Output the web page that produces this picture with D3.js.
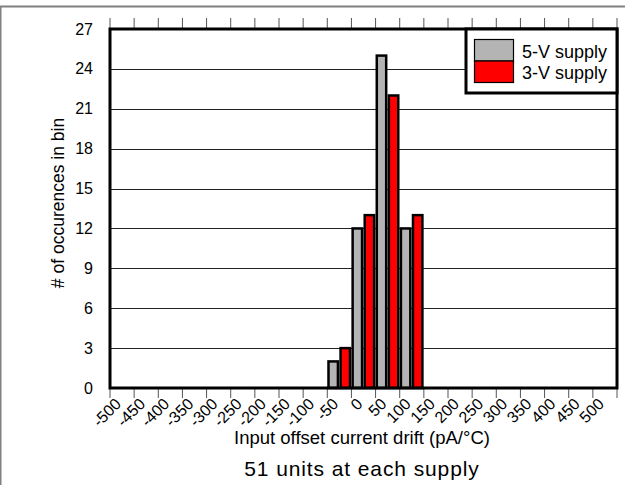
<!DOCTYPE html>
<html lang="en">
<head>
  <meta charset="UTF-8">
  <title>Input offset current drift histogram</title>
  <script src="https://d3js.org/d3.v7.min.js"></script>
  <style>
    body { margin: 0; background: #fff; }
    svg text { font-family: "Liberation Sans", Arial, Helvetica, sans-serif; fill: #000; }
  </style>
</head>
<body>
<div id="graph-container"></div>

<script>
// bin labels (pA/°C)
const bins = d3.range(-500, 501, 50).map(String);
// counts per bin
const counts5V = { "-50": 2, "0": 12, "50": 25, "100": 12 };
const counts3V = { "-50": 3, "0": 13, "50": 22, "100": 13 };
const yTicks = d3.range(0, 28, 3);
const series = [
  { name: "5-V supply", key: "v5", color: "#b4b4b4" },
  { name: "3-V supply", key: "v3", color: "#ff0000" }
];

const data = bins.map(b => ({ bin: b, v5: counts5V[b] || 0, v3: counts3V[b] || 0 }));

const width = 625, height = 485;
const plotLeft = 110, plotRight = 617, plotTop = 29, plotBottom = 388;

const svg = d3.select("#graph-container")
  .append("svg")
  .attr("width", width)
  .attr("height", height);

// outer frame
svg.append("line").attr("x1", 0).attr("x2", width).attr("y1", 6.5).attr("y2", 6.5)
  .attr("stroke", "#808080").attr("stroke-width", 2);
svg.append("line").attr("x1", 0.5).attr("x2", 0.5).attr("y1", 6).attr("y2", height)
  .attr("stroke", "#808080").attr("stroke-width", 2);

const x = d3.scaleBand().domain(bins).range([plotLeft, plotRight]).padding(0);
const y = d3.scaleLinear().domain([0, 27]).range([plotBottom, plotTop]);
const bw = x.bandwidth();

// grid lines
svg.append("g")
  .selectAll("line")
  .data(yTicks.filter(d => d > 0 && d < 27))
  .enter()
  .append("line")
  .attr("x1", plotLeft).attr("x2", plotRight)
  .attr("y1", d => Math.round(y(d)) + 0.5)
  .attr("y2", d => Math.round(y(d)) + 0.5)
  .attr("stroke", "#222")
  .attr("stroke-width", 1);

// bin boundary ticks (top and bottom)
const edges = bins.map(b => x(b)).concat([plotRight]);
svg.append("g")
  .selectAll("line")
  .data(edges)
  .enter()
  .append("line")
  .attr("x1", d => d).attr("x2", d => d)
  .attr("y1", plotTop - 11).attr("y2", plotTop)
  .attr("stroke", "#555").attr("stroke-width", 1);
svg.append("g")
  .selectAll("line")
  .data(edges)
  .enter()
  .append("line")
  .attr("x1", d => d).attr("x2", d => d)
  .attr("y1", plotBottom).attr("y2", plotBottom + 10)
  .attr("stroke", "#555").attr("stroke-width", 1);

// bars
series.forEach((s, i) => {
  svg.append("g")
    .selectAll("rect")
    .data(data.filter(d => d[s.key] > 0))
    .enter()
    .append("rect")
    .attr("x", d => x(d.bin) + bw * (0.05 + i * 0.5))
    .attr("width", bw * 0.39)
    .attr("y", d => y(d[s.key]))
    .attr("height", d => y(0) - y(d[s.key]))
    .attr("fill", s.color)
    .attr("stroke", "#000")
    .attr("stroke-width", 2.5);
});

// plot border
svg.append("rect")
  .attr("x", plotLeft).attr("y", plotTop)
  .attr("width", plotRight - plotLeft).attr("height", plotBottom - plotTop)
  .attr("fill", "none").attr("stroke", "#000").attr("stroke-width", 3);

// y tick labels
svg.append("g")
  .selectAll("text")
  .data(yTicks)
  .enter()
  .append("text")
  .attr("x", plotLeft - 17)
  .attr("y", d => y(d))
  .attr("dy", "0.35em")
  .attr("text-anchor", "end")
  .style("font-size", "16px")
  .text(d => d);

// x tick labels
svg.append("g")
  .selectAll("text")
  .data(bins)
  .enter()
  .append("text")
  .attr("transform", d => `translate(${x(d) + bw / 2},${plotBottom + 17}) rotate(-45)`)
  .attr("text-anchor", "end")
  .style("font-size", "16px")
  .text(d => d);

// axis titles
svg.append("text")
  .attr("transform", `translate(64,203) rotate(-90)`)
  .attr("text-anchor", "middle")
  .style("font-size", "17.5px")
  .text("# of occurences in bin");

svg.append("text")
  .attr("x", 362)
  .attr("y", 444)
  .attr("text-anchor", "middle")
  .style("font-size", "18.5px")
  .text("Input offset current drift (pA/°C)");

svg.append("text")
  .attr("x", 362)
  .attr("y", 476)
  .attr("text-anchor", "middle")
  .style("font-size", "21px")
  .style("letter-spacing", "0.9px")
  .text("51 units at each supply");

// legend
const legend = svg.append("g");
legend.append("rect")
  .attr("x", 466).attr("y", plotTop)
  .attr("width", plotRight - 466).attr("height", 93 - plotTop)
  .attr("fill", "#fff").attr("stroke", "#000").attr("stroke-width", 3);
series.forEach((s, i) => {
  legend.append("rect")
    .attr("x", 474.5).attr("y", 39.5 + i * 21.5)
    .attr("width", 39).attr("height", 21.5)
    .attr("fill", s.color)
    .attr("stroke", "#000").attr("stroke-width", 1.2);
  legend.append("text")
    .attr("x", 522).attr("y", 57.5 + i * 21)
    .style("font-size", "18px")
    .text(s.name);
});
</script>
</body>
</html>
